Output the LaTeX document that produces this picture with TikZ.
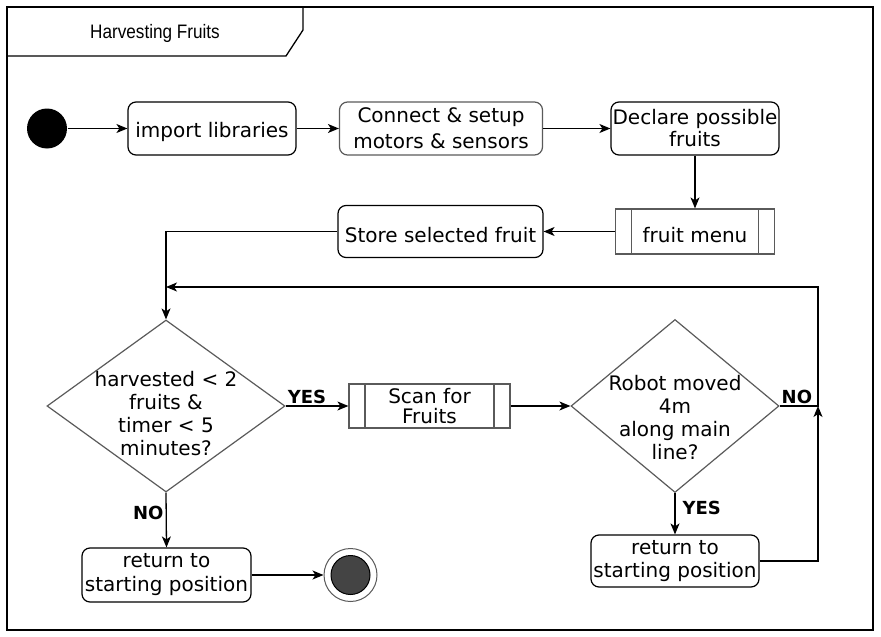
\documentclass[tikz,border=0pt]{standalone}
\usepackage{fontspec}
\setmainfont{DejaVu Sans}
\newfontfamily\titlefont{Liberation Sans}
\usetikzlibrary{shapes.geometric,arrows.meta}
\definecolor{edgegray}{HTML}{5A5A5A}
\definecolor{stopfill}{HTML}{444444}
\tikzset{
	act/.style={draw,rounded corners=8pt,line width=1.2pt,align=center,inner sep=0pt,
		execute at begin node={\rule{0pt}{22pt}}},
	subproc/.style={draw=edgegray,line width=1.2pt,align=center,inner sep=0pt,
		execute at begin node={\rule{0pt}{22pt}},
		path picture={\draw[edgegray,line width=1.2pt]
			([xshift=16pt]path picture bounding box.north west)--([xshift=16pt]path picture bounding box.south west)
			([xshift=-16pt]path picture bounding box.north east)--([xshift=-16pt]path picture bounding box.south east);}},
	decision/.style={diamond,draw=edgegray,line width=1.2pt,inner sep=0pt},
	yesno/.style={font=\bfseries\fontsize{18}{20}\selectfont,inner sep=2pt},
}
\begin{document}
\begin{tikzpicture}[>={Stealth[length=11pt,width=9pt,inset=3pt]},x=1pt,y=-1pt,line width=1.3pt,font=\fontsize{20}{23}\selectfont]
	\useasboundingbox (0,0) rectangle (881,637);
	\draw (7,7) rectangle (873,630);
	\draw (7,56) -- (286,56) -- (303,30) -- (303,7);
	\node[xscale=0.88,font=\titlefont\fontsize{19.5}{22}\selectfont] (title) at (155,33) {Harvesting Fruits};
	\node[circle,fill,minimum size=40pt,inner sep=0pt] (start) at (47,128.5) {};
	\node[act,minimum width=168pt,minimum height=53pt] (libs) at (212,128.5) {import libraries};
	\node[act,draw=edgegray,minimum width=203pt,minimum height=53pt,font=\fontsize{20}{26}\selectfont] (setup) at (441,128.5) {Connect \& setup\\motors \& sensors};
	\node[act,minimum width=168pt,minimum height=53pt,font=\fontsize{20}{22}\selectfont] (declare) at (695,128.5) {Declare possible\\fruits};
	\node[subproc,minimum width=159pt,minimum height=45pt] (menu) at (695,231.5) {fruit menu};
	\node[act,minimum width=205pt,minimum height=52pt] (store) at (440.5,231.5) {Store selected fruit};
	\node[decision,minimum width=238pt,minimum height=172pt,
		label={[align=center,yshift=-8pt]center:harvested < 2\\fruits \&\\timer < 5\\minutes?}] (harv) at (166,406) {};
	\node[subproc,minimum width=161pt,minimum height=44pt,font=\fontsize{20}{20}\selectfont] (scan) at (429.5,406) {Scan for\\Fruits};
	\node[decision,minimum width=208pt,minimum height=173pt,
		label={[align=center,yshift=-12pt]center:Robot moved\\4m\\along main\\line?}] (moved) at (675,406) {};
	\node[act,minimum width=168pt,minimum height=52pt] (back2) at (675,561) {return to\\starting position};
	\node[act,minimum width=169pt,minimum height=54pt,font=\fontsize{20}{24}\selectfont] (back1) at (166.5,575) {return to\\starting position};
	\node[circle,draw=edgegray,fill=white,line width=1pt,minimum size=53pt,inner sep=0pt,
		path picture={\filldraw[fill=stopfill,draw=black,line width=1pt] (path picture bounding box.center) circle (19.5pt);}] (stop) at (350.5,575) {};
	\coordinate (join) at (818,406);
	\coordinate (merge) at (166,287);
	\draw[->] (start) -- (libs);
	\draw[->] (libs) -- (setup);
	\draw[->] (setup) -- (declare);
	\draw[->] (declare.south) -- (menu.north);
	\draw[->] (menu) -- (store);
	\draw[->] (store.west) -| (harv.north);
	\draw[->] (harv.east) -- node[yesno,above,pos=0.34]{YES} (scan.west);
	\draw[->] (scan.east) -- (moved.west);
	\draw[->] (harv.south) -- node[yesno,left,pos=0.37]{NO} (back1.north);
	\draw[->] (back1) -- (stop);
	\draw[->] (moved.south) -- node[yesno,right=5pt,pos=0.37]{YES} (back2.north);
	\draw[->] (moved.east) -- node[yesno,above,pos=0.45]{NO} (join) |- (merge);
	\draw[->] (back2.east) -| (join);
\end{tikzpicture}
\end{document}
